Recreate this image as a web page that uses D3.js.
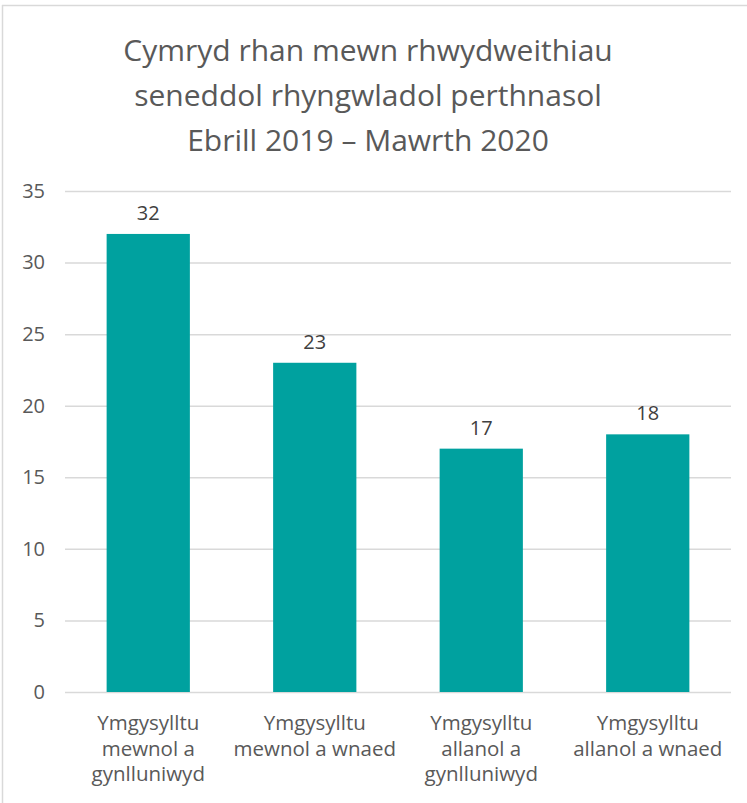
<!DOCTYPE html>
<meta charset="utf-8">
<style>
body{margin:0;background:#fff;font-family:"Open Sans", sans-serif;}
</style>
<body>
<div id="chart"></div>
<script src="https://d3js.org/d3.v7.min.js"></script>
<script>

var width = 747,
    height = 803;

var titleLines = ["Cymryd rhan mewn rhwydweithiau", "seneddol rhyngwladol perthnasol", "Ebrill 2019 \u2013 Mawrth 2020"];
var categories = [
  ["Ymgysylltu", "mewnol a", "gynlluniwyd"],
  ["Ymgysylltu", "mewnol a wnaed"],
  ["Ymgysylltu", "allanol a", "gynlluniwyd"],
  ["Ymgysylltu", "allanol a wnaed"]
];
var values = [32, 23, 17, 18];
var yTicks = [0, 5, 10, 15, 20, 25, 30, 35];

var margin = {left: 65, right: 16, top: 191, bottom: 111};

var svg = d3.select("#chart").append("svg")
    .attr("width", width)
    .attr("height", height);

// chart frame
svg.append("line").attr("x1", 2.5).attr("x2", 2.5).attr("y1", 5).attr("y2", height)
    .style("stroke", "#d9d9d9").style("stroke-width", 1.5);
svg.append("line").attr("x1", 2).attr("x2", width).attr("y1", 5.5).attr("y2", 5.5)
    .style("stroke", "#d9d9d9").style("stroke-width", 1.5);

var x = d3.scaleBand()
    .domain(d3.range(categories.length))
    .range([margin.left, width - margin.right])
    .paddingInner(0.5)
    .paddingOuter(0.25);

var y = d3.scaleLinear()
    .domain([0, 35])
    .range([height - margin.bottom, margin.top]);

svg.append("text")
    .attr("text-anchor", "middle")
    .style("font-size", "30px")
    .style("fill", "#595959")
  .selectAll("tspan")
    .data(titleLines)
  .enter().append("tspan")
    .attr("x", 368)
    .attr("y", function(d, i) { return 61 + i * 45; })
    .text(function(d) { return d; });

// gridlines
svg.append("g")
  .selectAll("line")
    .data(yTicks)
  .enter().append("line")
    .attr("x1", margin.left)
    .attr("x2", width - margin.right)
    .attr("y1", function(d) { return y(d) + 0.5; })
    .attr("y2", function(d) { return y(d) + 0.5; })
    .style("stroke", "#d9d9d9")
    .style("stroke-width", 1.5);

var yAxis = svg.append("g")
    .attr("transform", "translate(" + (margin.left - 20) + ",0)")
    .call(d3.axisLeft(y).tickValues(yTicks).tickSize(0).tickPadding(0));
yAxis.select(".domain").remove();
yAxis.selectAll("text")
    .style("font-family", "'Open Sans', sans-serif")
    .style("font-size", "20px")
    .style("fill", "#595959");

svg.append("g")
  .selectAll("rect")
    .data(values)
  .enter().append("rect")
    .attr("x", function(d, i) { return x(i); })
    .attr("y", function(d) { return y(d); })
    .attr("width", x.bandwidth())
    .attr("height", function(d) { return y(0) - y(d); })
    .style("fill", "#00a19f");

svg.append("g")
  .selectAll("text")
    .data(values)
  .enter().append("text")
    .attr("x", function(d, i) { return x(i) + x.bandwidth() / 2; })
    .attr("y", function(d) { return y(d) - 14; })
    .attr("text-anchor", "middle")
    .style("font-size", "20px")
    .style("fill", "#404040")
    .text(function(d) { return d; });

svg.append("g")
  .selectAll("text")
    .data(categories)
  .enter().append("text")
    .attr("text-anchor", "middle")
    .style("font-size", "20.5px")
    .style("fill", "#595959")
    .each(function(d, i) {
      var cx = x(i) + x.bandwidth() / 2;
      d3.select(this).selectAll("tspan")
          .data(d)
        .enter().append("tspan")
          .attr("x", cx)
          .attr("y", function(t, j) { return height - margin.bottom + 38 + j * 25.5; })
          .text(function(t) { return t; });
    });

</script>
</body>
</html>
